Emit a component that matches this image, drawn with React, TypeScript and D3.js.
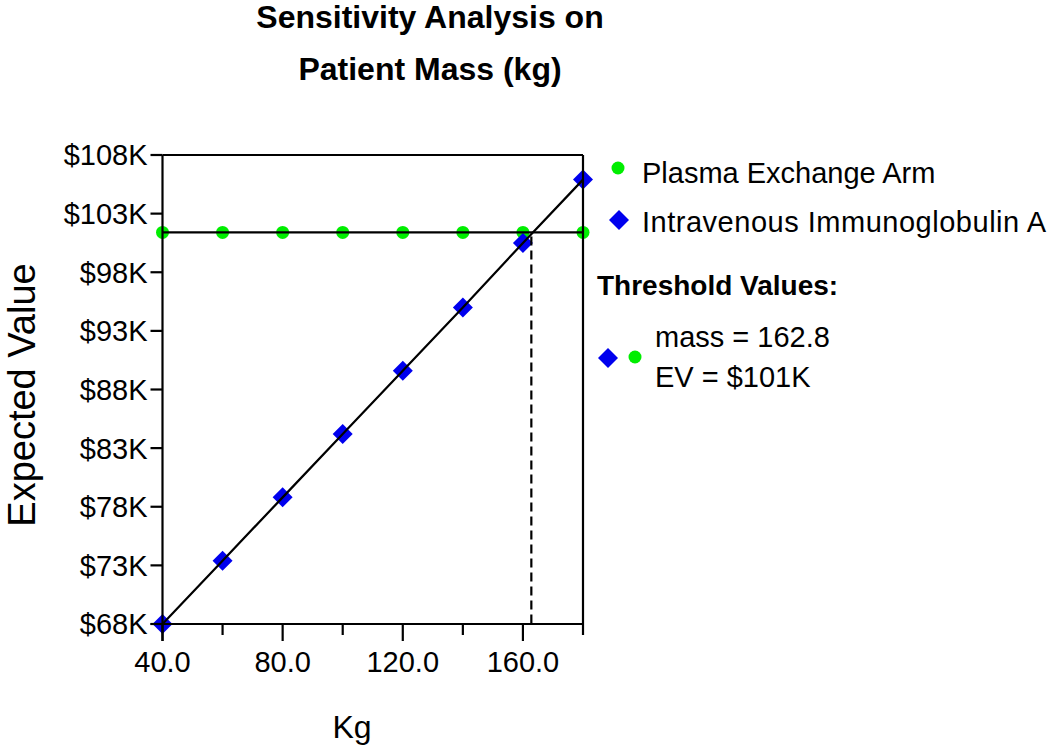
import React from "react";
import * as d3 from "d3";

const massKg = [40, 60, 80, 100, 120, 140, 160, 180];
const plasmaEV = [101.4, 101.4, 101.4, 101.4, 101.4, 101.4, 101.4, 101.4];
const ivigEV = [68.0, 73.4, 78.8, 84.2, 89.6, 95.0, 100.5, 105.9];
const yTicks = [68, 73, 78, 83, 88, 93, 98, 103, 108];
const xMajorTicks = [40, 80, 120, 160];
const xMinorTicks = [60, 100, 140, 180];
const thresholdMass = 162.8;
const thresholdEV = 101.4;
const titleLines = ["Sensitivity Analysis on", "Patient Mass (kg)"];
const seriesNames = ["Plasma Exchange Arm", "Intravenous Immunoglobulin A"];

const FONT = "'Liberation Sans', Arial, Helvetica, sans-serif";
const GREEN = "#00ee00";
const BLUE = "#0000ee";

export default function App() {
  const left = 162.5, right = 583, top = 155, bottom = 624;
  const x = d3.scaleLinear().domain([40, 180]).range([left, right]);
  const y = d3.scaleLinear().domain([68, 108]).range([bottom, top]);

  const lineGen = d3
    .line<[number, number]>()
    .x((d) => x(d[0]))
    .y((d) => y(d[1]));

  const ivigPts: [number, number][] = massKg.map((m, i) => [m, ivigEV[i]]);
  const plasmaPts: [number, number][] = massKg.map((m, i) => [m, plasmaEV[i]]);
  const diamond = (cx: number, cy: number, r: number) =>
    `M${cx},${cy - r}L${cx + r},${cy}L${cx},${cy + r}L${cx - r},${cy}Z`;

  return (
    <svg
      width={1050}
      height={750}
      style={{ position: "absolute", left: 0, top: 0, background: "#fff" }}
      fontFamily={FONT}
    >
      {/* Title */}
      {titleLines.map((t, i) => (
        <text key={t} x={430} y={28 + i * 52} textAnchor="middle" fontSize={32} fontWeight="bold">
          {t}
        </text>
      ))}

      {/* Markers */}
      {plasmaPts.map((d, i) => (
        <circle key={"g" + i} cx={x(d[0])} cy={y(d[1])} r={6.5} fill={GREEN} />
      ))}
      {ivigPts.map((d, i) => (
        <path key={"b" + i} d={diamond(x(d[0]), y(d[1]), 10)} fill={BLUE} />
      ))}

      {/* Lines */}
      <path d={lineGen(plasmaPts) || ""} fill="none" stroke="#000" strokeWidth={2.2} />
      <path d={lineGen(ivigPts) || ""} fill="none" stroke="#000" strokeWidth={2.2} />
      <line
        x1={x(thresholdMass)}
        x2={x(thresholdMass)}
        y1={y(thresholdEV) + 4}
        y2={bottom}
        stroke="#000"
        strokeWidth={2.2}
        strokeDasharray="9,5"
      />

      {/* Frame */}
      <line x1={left} x2={right} y1={top} y2={top} stroke="#000" strokeWidth={2.2} />
      <line x1={right} x2={right} y1={top} y2={bottom} stroke="#000" strokeWidth={2.2} />
      <line x1={left} x2={left} y1={top} y2={bottom + 17} stroke="#000" strokeWidth={2.2} />
      <line x1={left - 12} x2={right} y1={bottom} y2={bottom} stroke="#000" strokeWidth={2.2} />

      {/* Y ticks */}
      {yTicks.map((t) => (
        <g key={"y" + t}>
          <line x1={left - 12} x2={left} y1={y(t)} y2={y(t)} stroke="#000" strokeWidth={2.2} />
          <text x={left - 15} y={y(t)} dy="0.36em" textAnchor="end" fontSize={29}>
            {`$${t}K`}
          </text>
        </g>
      ))}

      {/* X ticks */}
      {xMajorTicks.map((t) => (
        <g key={"x" + t}>
          <line x1={x(t)} x2={x(t)} y1={bottom} y2={bottom + 17} stroke="#000" strokeWidth={2.2} />
          <text x={x(t)} y={672} textAnchor="middle" fontSize={29}>
            {t.toFixed(1)}
          </text>
        </g>
      ))}
      {xMinorTicks.map((t) => (
        <line key={"xm" + t} x1={x(t)} x2={x(t)} y1={bottom} y2={bottom + 11} stroke="#000" strokeWidth={2.2} />
      ))}

      {/* Axis titles */}
      <text x={352} y={738} textAnchor="middle" fontSize={32}>
        Kg
      </text>
      <text transform="translate(35,395) rotate(-90)" textAnchor="middle" fontSize={38}>
        Expected Value
      </text>

      {/* Legend */}
      <circle cx={618} cy={168} r={6.5} fill={GREEN} />
      <text x={642} y={183} fontSize={29}>
        {seriesNames[0]}
      </text>
      <path d={diamond(619, 220, 10)} fill={BLUE} />
      <text x={642} y={232} fontSize={29} textLength={404} lengthAdjust="spacing">
        {seriesNames[1]}
      </text>

      <text x={597} y={295} fontSize={28} fontWeight="bold">
        Threshold Values:
      </text>
      <path d={diamond(608, 358, 10)} fill={BLUE} />
      <circle cx={635} cy={357} r={6.5} fill={GREEN} />
      <text x={655} y={347} fontSize={29}>
        {`mass = ${thresholdMass.toFixed(1)}`}
      </text>
      <text x={655} y={387} fontSize={29}>
        {`EV = $${Math.round(thresholdEV)}K`}
      </text>
    </svg>
  );
}
